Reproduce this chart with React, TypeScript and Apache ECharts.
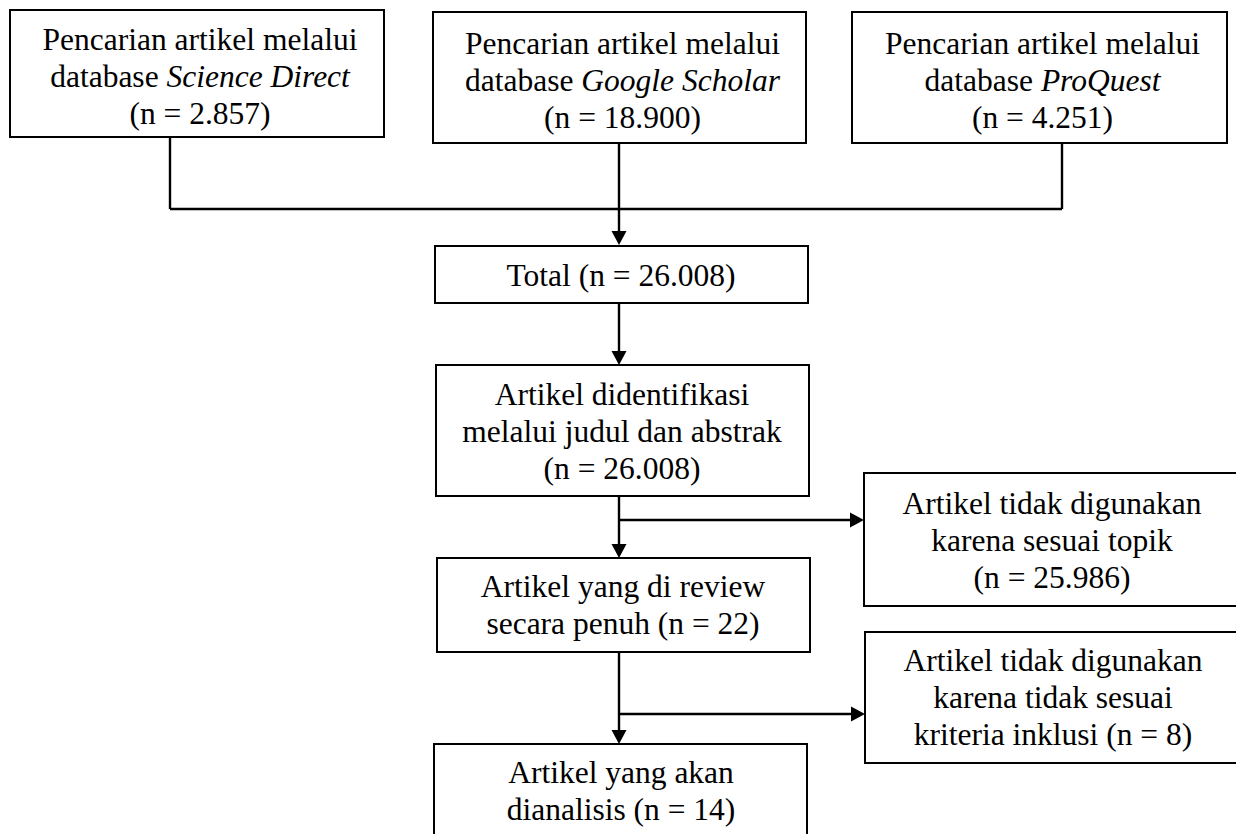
import React, { useEffect, useRef } from "react";
import * as echarts from "echarts";

// ---- data ----
const sourceNames = ["Science Direct", "Google Scholar", "ProQuest"];
const sourceCounts = ["2.857", "18.900", "4.251"];
const totalCount = "26.008";
const screenedCount = "26.008";
const excludedTopicCount = "25.986";
const reviewedCount = "22";
const excludedCriteriaCount = "8";
const analysedCount = "14";

const FONT = '"Liberation Serif", "Times New Roman", serif';
const FS = 31.5;

function App() {
  const ref = useRef<HTMLDivElement>(null);

  useEffect(() => {
    if (!ref.current) return;
    const chart = echarts.init(ref.current, undefined, { renderer: "svg" });

    const stroke = "#000";
    const lw = 2;
    const clw = 2.4;

    const rect = (x: number, y: number, w: number, h: number) => ({
      type: "rect",
      shape: { x, y, width: w, height: h },
      style: { fill: "#fff", stroke, lineWidth: lw },
      z: 1,
    });
    const line = (x1: number, y1: number, x2: number, y2: number) => ({
      type: "line",
      shape: { x1, y1, x2, y2 },
      style: { stroke, lineWidth: clw },
      z: 2,
    });
    const arrowDown = (x: number, y1: number, tip: number) => [
      line(x, y1, x, tip - 13),
      {
        type: "polygon",
        shape: { points: [[x - 7.5, tip - 14], [x + 7.5, tip - 14], [x, tip]] },
        style: { fill: stroke },
        z: 2,
      },
    ];
    const arrowRight = (x1: number, y: number, tip: number) => [
      line(x1, y, tip - 13, y),
      {
        type: "polygon",
        shape: { points: [[tip - 14, y - 7.5], [tip - 14, y + 7.5], [tip, y]] },
        style: { fill: stroke },
        z: 2,
      },
    ];
    const text = (x: number, y: number, t: string, lh: number) => ({
      type: "text",
      x,
      y,
      z: 3,
      style: {
        text: t,
        fontFamily: FONT,
        fontSize: FS,
        lineHeight: lh,
        fill: "#000",
        align: "center",
        verticalAlign: "middle",
        rich: {
          i: {
            fontFamily: FONT,
            fontSize: FS,
            fontStyle: "italic",
            lineHeight: lh,
            fill: "#000",
          },
        },
      },
    });

    const srcBoxes = [
      [10, 10, 374, 127],
      [433, 12, 373, 131],
      [852, 12, 375, 131],
    ];
    const srcDrop = [170, 619, 1062];
    const cx = 619;
    const joinY = 209;

    const elements: any[] = [];

    srcBoxes.forEach((b, i) => {
      elements.push(rect(b[0], b[1], b[2], b[3]));
      elements.push(
        text(
          b[0] + b[2] / 2 + 3,
          b[1] + b[3] / 2 + 2.5,
          `Pencarian artikel melalui\ndatabase {i|${sourceNames[i]}}\n(n = ${sourceCounts[i]})`,
          37
        )
      );
      if (i !== 1) elements.push(line(srcDrop[i], b[1] + b[3], srcDrop[i], joinY));
    });
    elements.push(line(srcDrop[0], joinY, srcDrop[2], joinY));
    elements.push(...arrowDown(cx, 143, 245));

    // Total
    elements.push(rect(435, 246, 373, 57));
    elements.push(text(621, 275, `Total (n = ${totalCount})`, 37));
    elements.push(...arrowDown(cx, 303, 365));

    // Identified
    elements.push(rect(436, 365, 373, 131));
    elements.push(
      text(622, 431, `Artikel didentifikasi\nmelalui judul dan abstrak\n(n = ${screenedCount})`, 37)
    );
    elements.push(...arrowDown(cx, 496, 558));
    elements.push(...arrowRight(cx, 520, 864));

    // Excluded topic
    elements.push(rect(864, 473, 376, 133));
    elements.push(
      text(1052, 540, `Artikel tidak digunakan\nkarena sesuai topik\n(n = ${excludedTopicCount})`, 37)
    );

    // Reviewed
    elements.push(rect(437, 558, 373, 94));
    elements.push(text(623, 605, `Artikel yang di review\nsecara penuh (n = ${reviewedCount})`, 37));
    elements.push(...arrowDown(cx, 652, 744));
    elements.push(...arrowRight(cx, 714, 865));

    // Excluded criteria
    elements.push(rect(865, 632, 376, 131));
    elements.push(
      text(
        1053,
        697,
        `Artikel tidak digunakan\nkarena tidak sesuai\nkriteria inklusi (n = ${excludedCriteriaCount})`,
        37
      )
    );

    // Analysed
    elements.push(rect(434, 744, 373, 100));
    elements.push(text(621, 791, `Artikel yang akan\ndianalisis (n = ${analysedCount})`, 37));

    chart.setOption({
      animation: false,
      backgroundColor: "#fff",
      graphic: { elements },
    });

    return () => chart.dispose();
  }, []);

  return (
    <div
      ref={ref}
      style={{ position: "absolute", left: 0, top: 0, width: 1236, height: 834, background: "#fff" }}
    />
  );
}

export default App;
